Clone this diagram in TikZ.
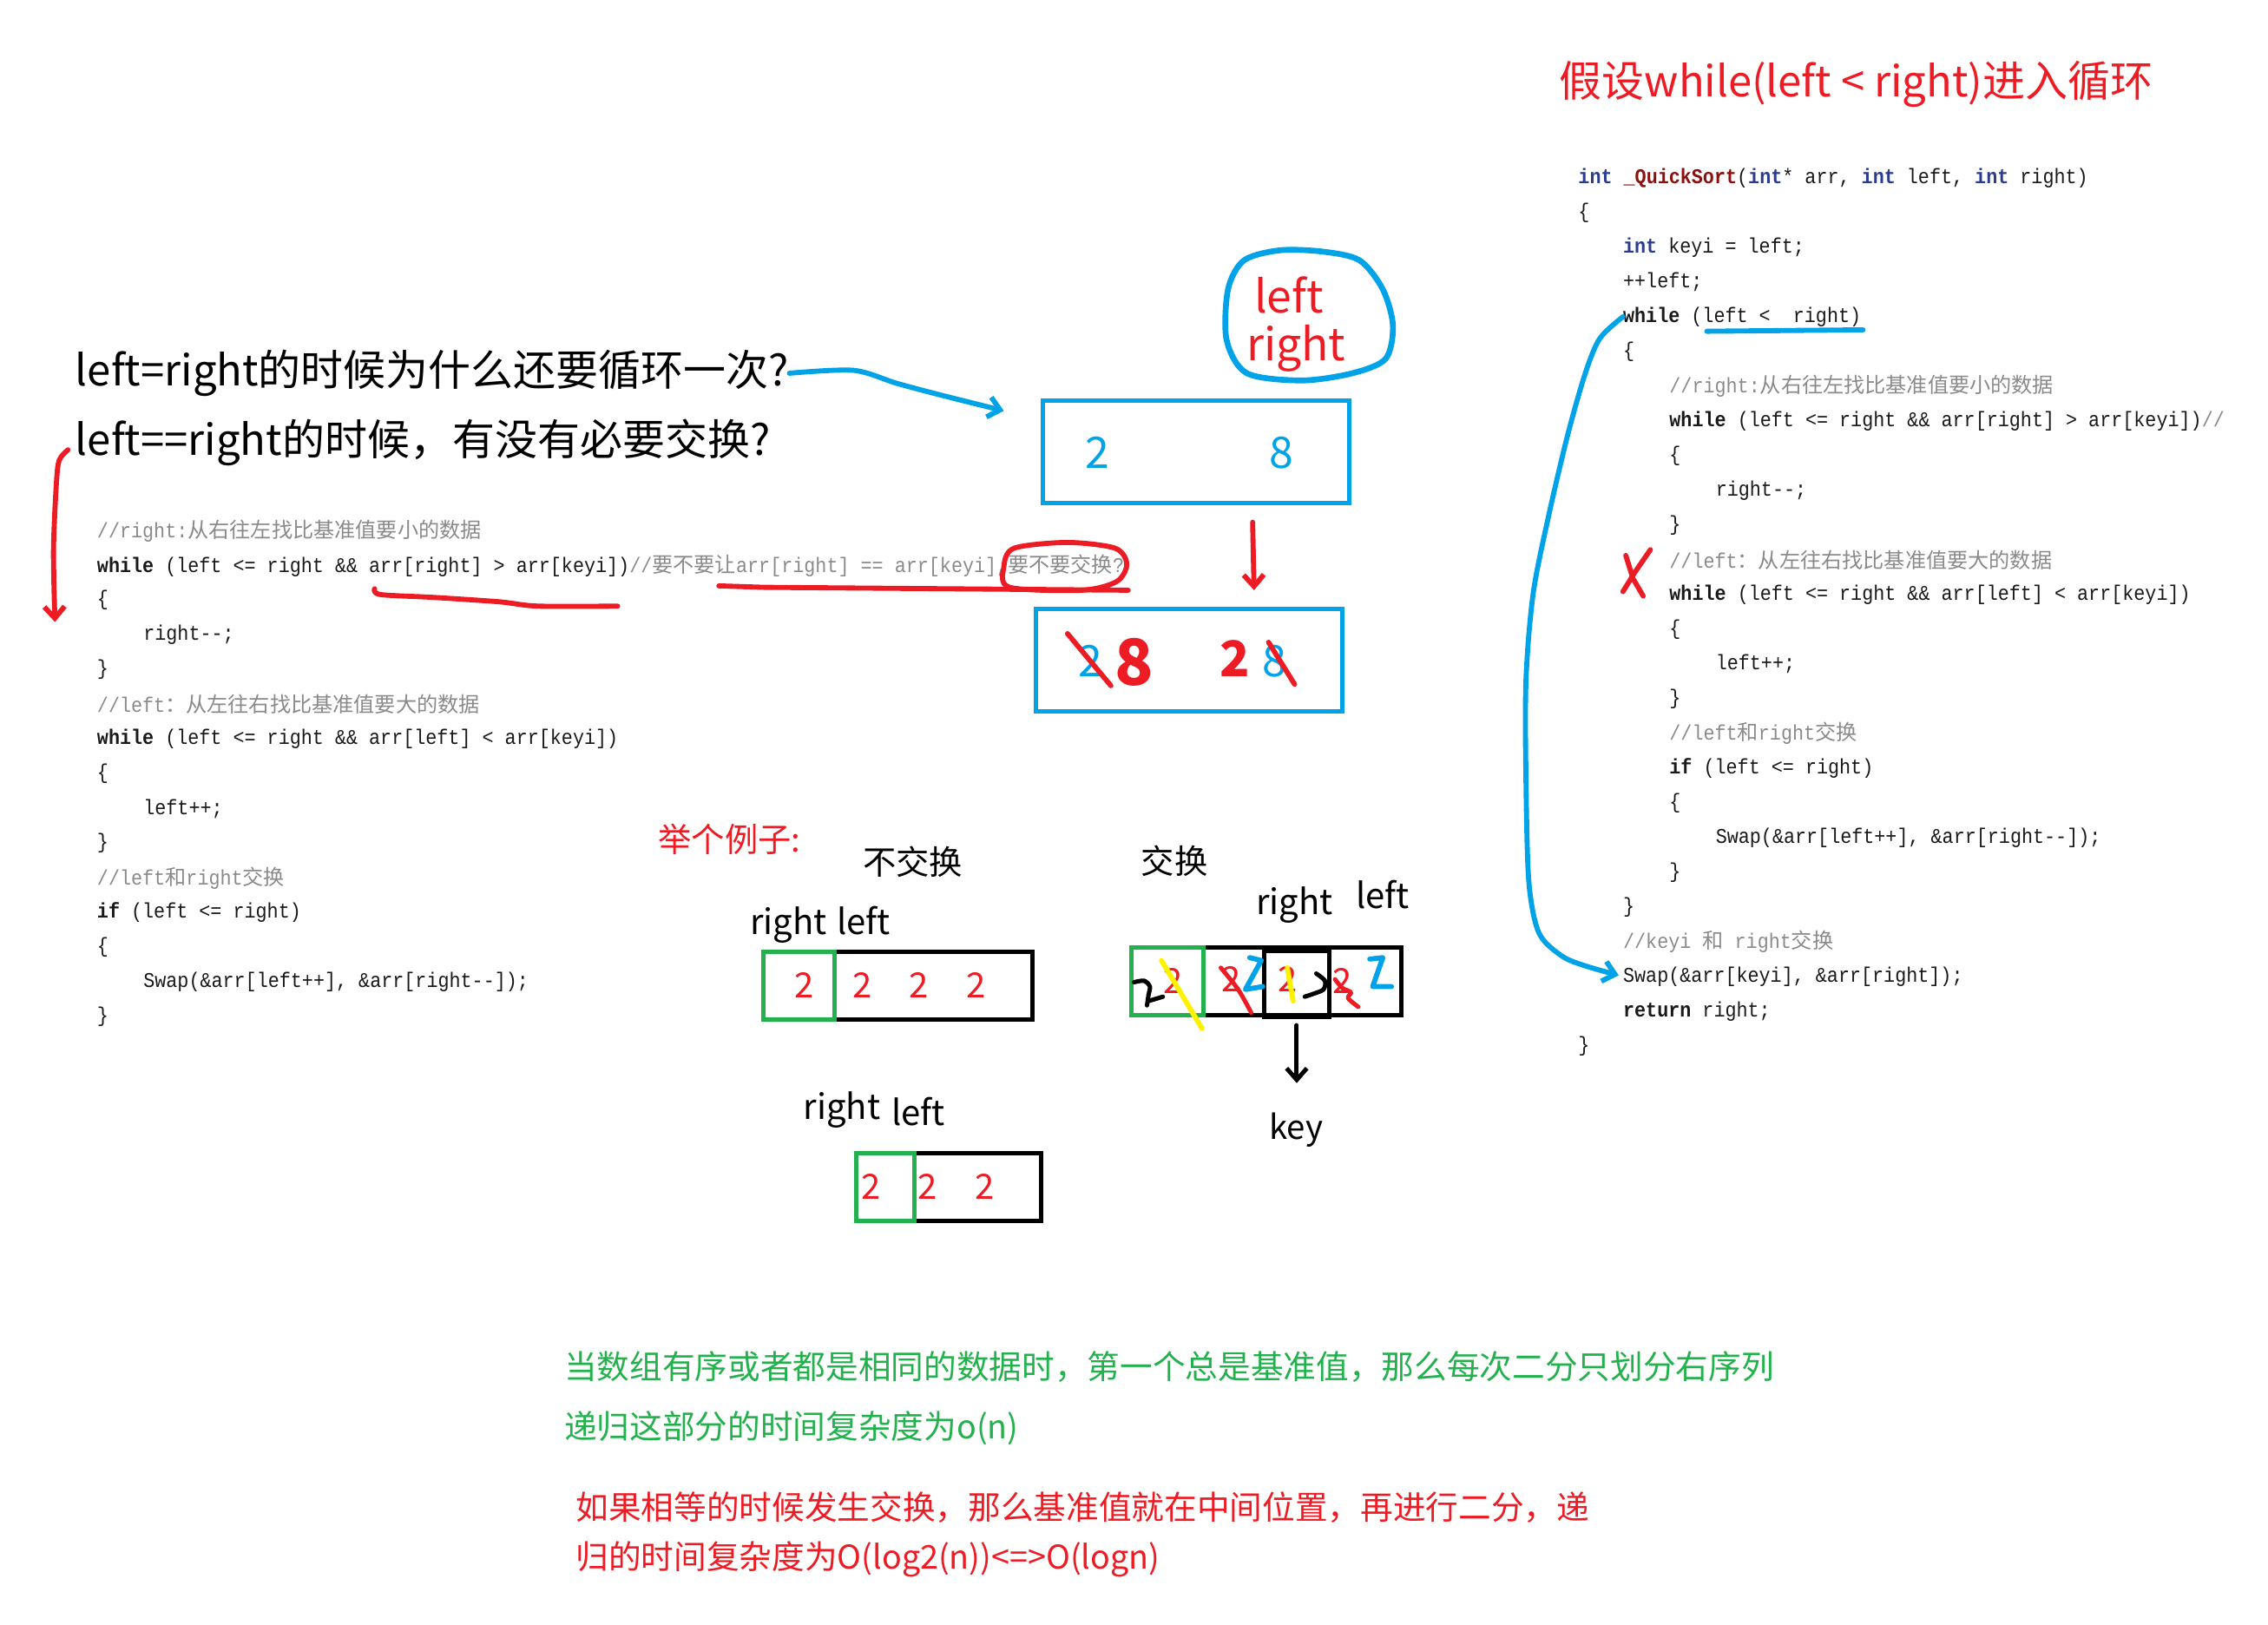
\documentclass[tikz,border=0pt]{standalone}
\usepackage{fontspec}
\setmainfont{Noto Sans CJK SC}
\newfontfamily\codefont[Ligatures=TeXOff, FakeStretch=0.9]{Liberation Mono}
\newfontfamily\cjk{Noto Sans CJK SC}
\usetikzlibrary{arrows.meta}

\definecolor{penred}{HTML}{ED1C24}
\definecolor{penblue}{HTML}{00A2E8}
\definecolor{pengreen}{HTML}{22B14C}
\definecolor{penyellow}{HTML}{FFF200}
\definecolor{kwblue}{HTML}{2B3C8E}
\definecolor{fnred}{HTML}{8B1010}
\definecolor{cmtgray}{HTML}{8A8A8A}

\newcommand\kw[1]{\textcolor{kwblue}{\textbf{#1}}}
\newcommand\kb[1]{\textbf{#1}}
\newcommand\zh[1]{{\cjk\fontsize{14.5}{16}\selectfont #1}}
\newcommand\cm[1]{\textcolor{cmtgray}{#1}}

\tikzset{
  code/.style={anchor=west, inner sep=0pt, text=black!90,
    font={\codefont\fontsize{14.5}{16}\selectfont}},
  say/.style={inner sep=0pt, font={\fontsize{29.4}{31}\selectfont}},
  small/.style={inner sep=0pt, font={\fontsize{23}{25}\selectfont}},
  note/.style={inner sep=0pt, anchor=west, font={\fontsize{22.6}{24}\selectfont}},
  lab/.style={inner sep=0pt, anchor=base, font={\fontsize{24}{26}\selectfont}},
  digit/.style={inner sep=0pt, text=penred, font={\fontsize{24}{26}\selectfont}},
  pen/.style={line width=3.5pt, line cap=round, line join=round},
  hand/.style={-{Straight Barb[length=8pt,width=14pt]}},
  cell/.style={draw, line width=3pt, inner sep=0pt},
}

\begin{document}
\begin{tikzpicture}[x=1pt,y=-1pt]
  \useasboundingbox (0,0) rectangle (1568,1123);

  % title
  \node[say, text=penred, anchor=west] (title) at (1078,58) {假设while(left < right)进入循环};

  % code on the right
  \node[code] (r1) at (1091,123) {\kw{int} \textcolor{fnred}{\textbf{\_QuickSort}}(\kw{int}* arr, \kw{int} left, \kw{int} right)};
  \node[code] (r2) at (1091,147) {\{};
  \node[code] (r3) at (1122,171) {\kw{int} keyi = left;};
  \node[code] (r4) at (1122,195) {++left;};
  \node[code] (r5) at (1122,219) {\kb{while} (left <~~right)};
  \node[code] (r6) at (1122,243) {\{};
  \node[code] (r7) at (1154,267) {\cm{//right:\zh{从右往左找比基准值要小的数据}}};
  \node[code] (r8) at (1154,291) {\kb{while} (left <= right \&\& arr[right] > arr[keyi])\cm{//}};
  \node[code] (r9) at (1154,315) {\{};
  \node[code] (r10) at (1186,339) {right--;};
  \node[code] (r11) at (1154,363) {\}};
  \node[code] (r12) at (1154,387) {\cm{//left\zh{：从左往右找比基准值要大的数据}}};
  \node[code] (r13) at (1154,411) {\kb{while} (left <= right \&\& arr[left] < arr[keyi])};
  \node[code] (r14) at (1154,435) {\{};
  \node[code] (r15) at (1186,459) {left++;};
  \node[code] (r16) at (1154,483) {\}};
  \node[code] (r17) at (1154,507) {\cm{//left\zh{和}right\zh{交换}}};
  \node[code] (r18) at (1154,531) {\kb{if} (left <= right)};
  \node[code] (r19) at (1154,555) {\{};
  \node[code] (r20) at (1186,579) {Swap(\&arr[left++], \&arr[right--]);};
  \node[code] (r21) at (1154,603) {\}};
  \node[code] (r22) at (1122,627) {\}};
  \node[code] (r23) at (1122,651) {\cm{//keyi \zh{和} right\zh{交换}}};
  \node[code] (r24) at (1122,675) {Swap(\&arr[keyi], \&arr[right]);};
  \node[code] (r25) at (1122,699) {\kb{return} right;};
  \node[code] (r26) at (1091,723) {\}};

  % marks on the right code
  \draw[pen, penblue] (1180,229) -- (1288,228);
  \draw[pen, penblue, hand, shorten >=3pt] plot[smooth] coordinates {(r5.west) (1106,234) (1096,258) (1084,300) (1071,355) (1060,410) (1055,470) (1055,540) (1057,610) (1064,645) (1080,661) (1097,668) (r24.west)};
  \draw[pen, penred] (1141,380) -- (1130,396) -- (1122,409);
  \draw[pen, penred] (1124,384) -- (1129,400) -- (1136,412);

  % questions
  \node[say, anchor=west] (q1) at (52,258) {left=right的时候为什么还要循环一次?};
  \node[say, anchor=west] (q2) at (52,306) {left==right的时候，有没有必要交换?};

  % code on the left
  \node[code] (l1) at (67,367) {\cm{//right:\zh{从右往左找比基准值要小的数据}}};
  \node[code] (l2) at (67,391) {\kb{while} (left <= right \&\& arr[right] > arr[keyi])\cm{//\zh{要不要让}arr[right] == arr[keyi],\zh{要不要交换}?}};
  \node[code] (l3) at (67,415) {\{};
  \node[code] (l4) at (99,439) {right--;};
  \node[code] (l5) at (67,463) {\}};
  \node[code] (l6) at (67,487) {\cm{//left\zh{：从左往右找比基准值要大的数据}}};
  \node[code] (l7) at (67,511) {\kb{while} (left <= right \&\& arr[left] < arr[keyi])};
  \node[code] (l8) at (67,535) {\{};
  \node[code] (l9) at (99,559) {left++;};
  \node[code] (l10) at (67,583) {\}};
  \node[code] (l11) at (67,607) {\cm{//left\zh{和}right\zh{交换}}};
  \node[code] (l12) at (67,631) {\kb{if} (left <= right)};
  \node[code] (l13) at (67,655) {\{};
  \node[code] (l14) at (99,679) {Swap(\&arr[left++], \&arr[right--]);};
  \node[code] (l15) at (67,703) {\}};

  % marks on the left code
  \draw[pen, penred, hand] plot[smooth] coordinates {(47,311) (41,318) (39,334) (37,380) (38,430)};
  \draw[pen, penred] plot[smooth] coordinates {(259,407) (263,411) (300,413) (345,416) (372,419) (427,419)};
  \draw[pen, penred] (497,405) -- (528,406) -- (780,408);
  \draw[pen, penred] plot[smooth cycle] coordinates {(694,392) (701,379) (738,375) (771,379) (779,390) (772,402) (748,408) (698,406)};

  % left / right over the box
  \draw[pen, penblue, line width=4pt] plot[smooth cycle] coordinates {(849,200) (860,180) (885,173) (915,174) (940,180) (956,200) (963,225) (958,248) (935,258) (900,263) (862,258) (848,235)};
  \node[inner sep=0pt, text=penred, font={\fontsize{31}{33}\selectfont}] (lf) at (891,204) {left};
  \node[inner sep=0pt, text=penred, font={\fontsize{31}{33}\selectfont}] (rt) at (896,241) {right};
  \draw[pen, penblue, hand] plot[smooth] coordinates {(q1.east) (590,256) (620,265) (650,273) (694,284)};

  \node[cell, draw=penblue, minimum width=212, minimum height=71] (b1) at (827,312.5) {};
  \node[inner sep=0pt, text=penblue, font={\fontsize{30}{32}\selectfont}] (b1a) at (759,313) {2};
  \node[inner sep=0pt, text=penblue, font={\fontsize{30}{32}\selectfont}] (b1b) at (886,313) {8};
  \coordinate (d1) at (866,361);
  \coordinate (d2) at (867,408);
  \draw[pen, penred, hand] (d1) -- (d2);

  \node[cell, draw=penblue, minimum width=212, minimum height=71] (b2) at (822,456.5) {};
  \node[inner sep=0pt, text=penblue, font={\fontsize{30}{32}\selectfont}] (b2a) at (754,457) {2};
  \node[inner sep=0pt, text=penblue, font={\fontsize{30}{32}\selectfont}] (b2b) at (881,457) {8};
  \node[inner sep=0pt, text=penred, font={\fontsize{44}{46}\selectfont\bfseries}] (b2c) at (784,458) {8};
  \node[inner sep=0pt, text=penred, font={\fontsize{34}{36}\selectfont\bfseries}] (b2d) at (854,455) {2};
  \draw[pen, penred] (738,438) -- (768,474);
  \draw[pen, penred] (877,444) -- (895,473);

  % example
  \node[small, text=penred, anchor=west] (eg) at (455,580) {举个例子:};
  \node[small] (nosw) at (631,596) {不交换};
  \node[small] (sw) at (812,595) {交换};

  \node[lab] (ra) at (545,646) {right};
  \node[lab] (la) at (597,646) {left};
  \node[cell, minimum width=186, minimum height=47] (row1) at (621,681.5) {};
  \node[cell, draw=pengreen, minimum width=49, minimum height=47] (g1) at (552.5,681.5) {};
  \node[digit] (a1) at (556,681) {2};
  \node[digit] (a2) at (596,681) {2};
  \node[digit] (a3) at (635,681) {2};
  \node[digit] (a4) at (675,681) {2};

  \node[lab] (rb) at (582,774) {right};
  \node[lab] (lb) at (635,778) {left};
  \node[cell, minimum width=128, minimum height=47] (row2) at (656,820.5) {};
  \node[cell, draw=pengreen, minimum width=40, minimum height=47] (g2) at (612,820.5) {};
  \node[digit] (c1) at (602,820) {2};
  \node[digit] (c2) at (641,820) {2};
  \node[digit] (c3) at (681,820) {2};

  \node[lab] (rc) at (895,632) {right};
  \node[lab] (lc) at (956,628) {left};
  \node[cell, minimum width=187, minimum height=47] (row3) at (875.5,678.5) {};
  \node[cell, draw=pengreen, minimum width=50, minimum height=47] (g3) at (807,678.5) {};
  \node[cell, line width=3.5pt, minimum width=45, minimum height=46] (k) at (896.5,680) {};
  \node[digit] (s1) at (811,678) {2};
  \node[digit] (s2) at (851,677) {2};
  \node[digit] (s3) at (890,677) {2};
  \node[digit] (s4) at (928,678) {2};
  \draw[pen, line width=3pt] plot[smooth] coordinates {(784,679) (791,678) (795,682) (794,688) (793,695)};
  \draw[pen, line width=3pt] (794,692) -- (804,689);
  \draw[pen, line width=3pt] plot[smooth] coordinates {(910,673) (916,678) (915,684) (908,687) (902,689)};
  \draw[pen, penyellow] (803,664) -- (831,711);
  \draw[pen, penyellow] (890,669) -- (894,692);
  \draw[pen, penred, line width=3pt] plot[smooth] coordinates {(844,669) (856,684) (865,700)};
  \draw[pen, penred, line width=3pt] plot[smooth] coordinates {(923,677) (928,683) (934,686) (932,690) (939,696)};
  \draw[pen, penblue] (864,662) -- (872,664) -- (861,684) -- (873,682);
  \draw[pen, penblue] (947,663) -- (956,662) -- (949,682) -- (962,682);
  \node[small] (key) at (896,781) {key};
  \draw[pen, line width=3pt, hand] (k.south) ++(0,4) -- ++(0,40);

  % notes
  \node[note, text=pengreen] (n1) at (390,945) {当数组有序或者都是相同的数据时，第一个总是基准值，那么每次二分只划分右序列};
  \node[note, text=pengreen] (n2) at (390,987) {递归这部分的时间复杂度为o(n)};
  \node[note, text=penred] (n3) at (398,1042) {如果相等的时候发生交换，那么基准值就在中间位置，再进行二分，递};
  \node[note, text=penred] (n4) at (398,1078) {归的时间复杂度为O(log2(n))<=>O(logn)};
\end{tikzpicture}
\end{document}
